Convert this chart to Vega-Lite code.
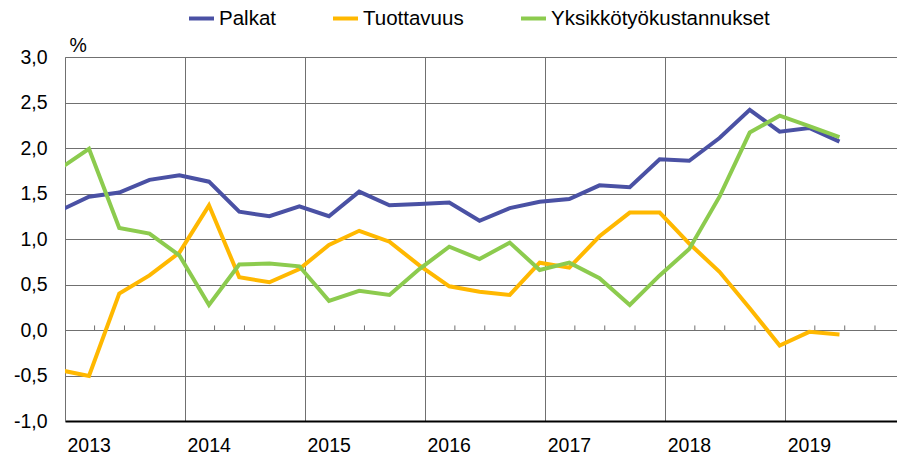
{
  "$schema": "https://vega.github.io/schema/vega-lite/v6.json",
  "width": 832,
  "height": 364,
  "autosize": {"type": "none"},
  "padding": {"left": 65, "top": 57, "right": 0, "bottom": 37},
  "background": "white",
  "config": {
    "view": {"stroke": null},
    "font": "Liberation Sans",
    "axis": {"labelFont": "Liberation Sans", "labelColor": "#000000", "labelFontSize": 19.5, "titleFont": "Liberation Sans"},
    "legend": {"labelFont": "Liberation Sans"}
  },
  "datasets": {
    "sarjat": [
      {"pvm": "2012-12-15", "sarja": "Palkat", "arvo": 1.31},
      {"pvm": "2013-03-15", "sarja": "Palkat", "arvo": 1.465},
      {"pvm": "2013-06-15", "sarja": "Palkat", "arvo": 1.51},
      {"pvm": "2013-09-15", "sarja": "Palkat", "arvo": 1.65},
      {"pvm": "2013-12-15", "sarja": "Palkat", "arvo": 1.70},
      {"pvm": "2014-03-15", "sarja": "Palkat", "arvo": 1.63},
      {"pvm": "2014-06-15", "sarja": "Palkat", "arvo": 1.30},
      {"pvm": "2014-09-15", "sarja": "Palkat", "arvo": 1.25},
      {"pvm": "2014-12-15", "sarja": "Palkat", "arvo": 1.36},
      {"pvm": "2015-03-15", "sarja": "Palkat", "arvo": 1.25},
      {"pvm": "2015-06-15", "sarja": "Palkat", "arvo": 1.52},
      {"pvm": "2015-09-15", "sarja": "Palkat", "arvo": 1.37},
      {"pvm": "2015-12-15", "sarja": "Palkat", "arvo": 1.385},
      {"pvm": "2016-03-15", "sarja": "Palkat", "arvo": 1.40},
      {"pvm": "2016-06-15", "sarja": "Palkat", "arvo": 1.20},
      {"pvm": "2016-09-15", "sarja": "Palkat", "arvo": 1.34},
      {"pvm": "2016-12-15", "sarja": "Palkat", "arvo": 1.41},
      {"pvm": "2017-03-15", "sarja": "Palkat", "arvo": 1.44},
      {"pvm": "2017-06-15", "sarja": "Palkat", "arvo": 1.59},
      {"pvm": "2017-09-15", "sarja": "Palkat", "arvo": 1.57},
      {"pvm": "2017-12-15", "sarja": "Palkat", "arvo": 1.875},
      {"pvm": "2018-03-15", "sarja": "Palkat", "arvo": 1.86},
      {"pvm": "2018-06-15", "sarja": "Palkat", "arvo": 2.11},
      {"pvm": "2018-09-15", "sarja": "Palkat", "arvo": 2.42},
      {"pvm": "2018-12-15", "sarja": "Palkat", "arvo": 2.18},
      {"pvm": "2019-03-15", "sarja": "Palkat", "arvo": 2.22},
      {"pvm": "2019-06-15", "sarja": "Palkat", "arvo": 2.07},
      {"pvm": "2012-12-15", "sarja": "Tuottavuus", "arvo": -0.44},
      {"pvm": "2013-03-15", "sarja": "Tuottavuus", "arvo": -0.505},
      {"pvm": "2013-06-15", "sarja": "Tuottavuus", "arvo": 0.40},
      {"pvm": "2013-09-15", "sarja": "Tuottavuus", "arvo": 0.60},
      {"pvm": "2013-12-15", "sarja": "Tuottavuus", "arvo": 0.85},
      {"pvm": "2014-03-15", "sarja": "Tuottavuus", "arvo": 1.37},
      {"pvm": "2014-06-15", "sarja": "Tuottavuus", "arvo": 0.58},
      {"pvm": "2014-09-15", "sarja": "Tuottavuus", "arvo": 0.525},
      {"pvm": "2014-12-15", "sarja": "Tuottavuus", "arvo": 0.67},
      {"pvm": "2015-03-15", "sarja": "Tuottavuus", "arvo": 0.935},
      {"pvm": "2015-06-15", "sarja": "Tuottavuus", "arvo": 1.09},
      {"pvm": "2015-09-15", "sarja": "Tuottavuus", "arvo": 0.97},
      {"pvm": "2015-12-15", "sarja": "Tuottavuus", "arvo": 0.71},
      {"pvm": "2016-03-15", "sarja": "Tuottavuus", "arvo": 0.48},
      {"pvm": "2016-06-15", "sarja": "Tuottavuus", "arvo": 0.42},
      {"pvm": "2016-09-15", "sarja": "Tuottavuus", "arvo": 0.385},
      {"pvm": "2016-12-15", "sarja": "Tuottavuus", "arvo": 0.74},
      {"pvm": "2017-03-15", "sarja": "Tuottavuus", "arvo": 0.685},
      {"pvm": "2017-06-15", "sarja": "Tuottavuus", "arvo": 1.03},
      {"pvm": "2017-09-15", "sarja": "Tuottavuus", "arvo": 1.29},
      {"pvm": "2017-12-15", "sarja": "Tuottavuus", "arvo": 1.29},
      {"pvm": "2018-03-15", "sarja": "Tuottavuus", "arvo": 0.95},
      {"pvm": "2018-06-15", "sarja": "Tuottavuus", "arvo": 0.64},
      {"pvm": "2018-09-15", "sarja": "Tuottavuus", "arvo": 0.24},
      {"pvm": "2018-12-15", "sarja": "Tuottavuus", "arvo": -0.17},
      {"pvm": "2019-03-15", "sarja": "Tuottavuus", "arvo": -0.02},
      {"pvm": "2019-06-15", "sarja": "Tuottavuus", "arvo": -0.05},
      {"pvm": "2012-12-15", "sarja": "Yksikkötyökustannukset", "arvo": 1.77},
      {"pvm": "2013-03-15", "sarja": "Yksikkötyökustannukset", "arvo": 1.99},
      {"pvm": "2013-06-15", "sarja": "Yksikkötyökustannukset", "arvo": 1.12},
      {"pvm": "2013-09-15", "sarja": "Yksikkötyökustannukset", "arvo": 1.06},
      {"pvm": "2013-12-15", "sarja": "Yksikkötyökustannukset", "arvo": 0.82},
      {"pvm": "2014-03-15", "sarja": "Yksikkötyökustannukset", "arvo": 0.275},
      {"pvm": "2014-06-15", "sarja": "Yksikkötyökustannukset", "arvo": 0.72},
      {"pvm": "2014-09-15", "sarja": "Yksikkötyökustannukset", "arvo": 0.73},
      {"pvm": "2014-12-15", "sarja": "Yksikkötyökustannukset", "arvo": 0.70},
      {"pvm": "2015-03-15", "sarja": "Yksikkötyökustannukset", "arvo": 0.32},
      {"pvm": "2015-06-15", "sarja": "Yksikkötyökustannukset", "arvo": 0.43},
      {"pvm": "2015-09-15", "sarja": "Yksikkötyökustannukset", "arvo": 0.385},
      {"pvm": "2015-12-15", "sarja": "Yksikkötyökustannukset", "arvo": 0.67},
      {"pvm": "2016-03-15", "sarja": "Yksikkötyökustannukset", "arvo": 0.915},
      {"pvm": "2016-06-15", "sarja": "Yksikkötyökustannukset", "arvo": 0.78},
      {"pvm": "2016-09-15", "sarja": "Yksikkötyökustannukset", "arvo": 0.96},
      {"pvm": "2016-12-15", "sarja": "Yksikkötyökustannukset", "arvo": 0.66},
      {"pvm": "2017-03-15", "sarja": "Yksikkötyökustannukset", "arvo": 0.74},
      {"pvm": "2017-06-15", "sarja": "Yksikkötyökustannukset", "arvo": 0.57},
      {"pvm": "2017-09-15", "sarja": "Yksikkötyökustannukset", "arvo": 0.275},
      {"pvm": "2017-12-15", "sarja": "Yksikkötyökustannukset", "arvo": 0.60},
      {"pvm": "2018-03-15", "sarja": "Yksikkötyökustannukset", "arvo": 0.89},
      {"pvm": "2018-06-15", "sarja": "Yksikkötyökustannukset", "arvo": 1.465},
      {"pvm": "2018-09-15", "sarja": "Yksikkötyökustannukset", "arvo": 2.17},
      {"pvm": "2018-12-15", "sarja": "Yksikkötyökustannukset", "arvo": 2.355},
      {"pvm": "2019-03-15", "sarja": "Yksikkötyökustannukset", "arvo": 2.24},
      {"pvm": "2019-06-15", "sarja": "Yksikkötyökustannukset", "arvo": 2.12}
    ],
    "jakoviivat": [
      {"pvm": "2013-04-01", "arvo": 0, "arvo2": 0.05},
      {"pvm": "2013-07-01", "arvo": 0, "arvo2": 0.05},
      {"pvm": "2013-10-01", "arvo": 0, "arvo2": 0.05},
      {"pvm": "2014-04-01", "arvo": 0, "arvo2": 0.05},
      {"pvm": "2014-07-01", "arvo": 0, "arvo2": 0.05},
      {"pvm": "2014-10-01", "arvo": 0, "arvo2": 0.05},
      {"pvm": "2015-04-01", "arvo": 0, "arvo2": 0.05},
      {"pvm": "2015-07-01", "arvo": 0, "arvo2": 0.05},
      {"pvm": "2015-10-01", "arvo": 0, "arvo2": 0.05},
      {"pvm": "2016-04-01", "arvo": 0, "arvo2": 0.05},
      {"pvm": "2016-07-01", "arvo": 0, "arvo2": 0.05},
      {"pvm": "2016-10-01", "arvo": 0, "arvo2": 0.05},
      {"pvm": "2017-04-01", "arvo": 0, "arvo2": 0.05},
      {"pvm": "2017-07-01", "arvo": 0, "arvo2": 0.05},
      {"pvm": "2017-10-01", "arvo": 0, "arvo2": 0.05},
      {"pvm": "2018-04-01", "arvo": 0, "arvo2": 0.05},
      {"pvm": "2018-07-01", "arvo": 0, "arvo2": 0.05},
      {"pvm": "2018-10-01", "arvo": 0, "arvo2": 0.05},
      {"pvm": "2019-04-01", "arvo": 0, "arvo2": 0.05},
      {"pvm": "2019-07-01", "arvo": 0, "arvo2": 0.05},
      {"pvm": "2019-10-01", "arvo": 0, "arvo2": 0.05}
    ]
  },
  "encoding": {
    "x": {
      "field": "pvm",
      "type": "temporal",
      "scale": {"domain": [{"year": 2013, "month": 1, "date": 1}, {"year": 2019, "month": 12, "date": 7}], "nice": false},
      "axis": {
        "title": null,
        "format": "%Y",
        "tickCount": {"interval": "year", "step": 1},
        "grid": true,
        "gridColor": "#707070",
        "gridWidth": 1,
        "ticks": false,
        "domain": true,
        "domainColor": "#000000",
        "domainWidth": 2,
        "labelAlign": "left",
        "labelOffset": 2,
        "labelPadding": 15,
        "labelFlush": false
      }
    },
    "y": {
      "field": "arvo",
      "type": "quantitative",
      "scale": {"domain": [-1, 3], "nice": false, "zero": false},
      "axis": {
        "values": [-1, -0.5, 0, 0.5, 1, 1.5, 2, 2.5, 3],
        "labelExpr": "replace(replace(format(datum.value, '.1f'), '.', ','), '\u2212', '-')",
        "grid": true,
        "gridColor": "#707070",
        "gridWidth": 1,
        "ticks": false,
        "domain": true,
        "domainColor": "#707070",
        "domainWidth": 1,
        "labelPadding": 18,
        "labelFlush": false,
        "title": "%",
        "titleAngle": 0,
        "titleAlign": "left",
        "titleBaseline": "middle",
        "titleX": 4,
        "titleY": -12,
        "titleFontSize": 19.5,
        "titleFontWeight": "normal",
        "titleColor": "#000000"
      }
    }
  },
  "layer": [
    {
      "data": {"name": "jakoviivat"},
      "mark": {"type": "rule", "color": "#707070", "strokeWidth": 1},
      "encoding": {"y2": {"field": "arvo2"}}
    },
    {
      "data": {"name": "sarjat"},
      "mark": {"type": "line", "strokeWidth": 4, "clip": true, "strokeJoin": "miter"},
      "encoding": {
        "color": {
          "field": "sarja",
          "type": "nominal",
          "scale": {
            "domain": ["Palkat", "Tuottavuus", "Yksikkötyökustannukset"],
            "range": ["#4A51A4", "#FFB800", "#8CCB4E"]
          },
          "legend": {
            "title": null,
            "orient": "none",
            "legendX": 122,
            "legendY": -53,
            "direction": "horizontal",
            "symbolType": "stroke",
            "symbolStrokeWidth": 4,
            "symbolSize": 625,
            "labelFontSize": 20.5,
            "labelColor": "#000000",
            "labelOffset": 3,
            "labelLimit": 500,
            "columnPadding": 49,
            "padding": 0
          }
        }
      }
    }
  ]
}
